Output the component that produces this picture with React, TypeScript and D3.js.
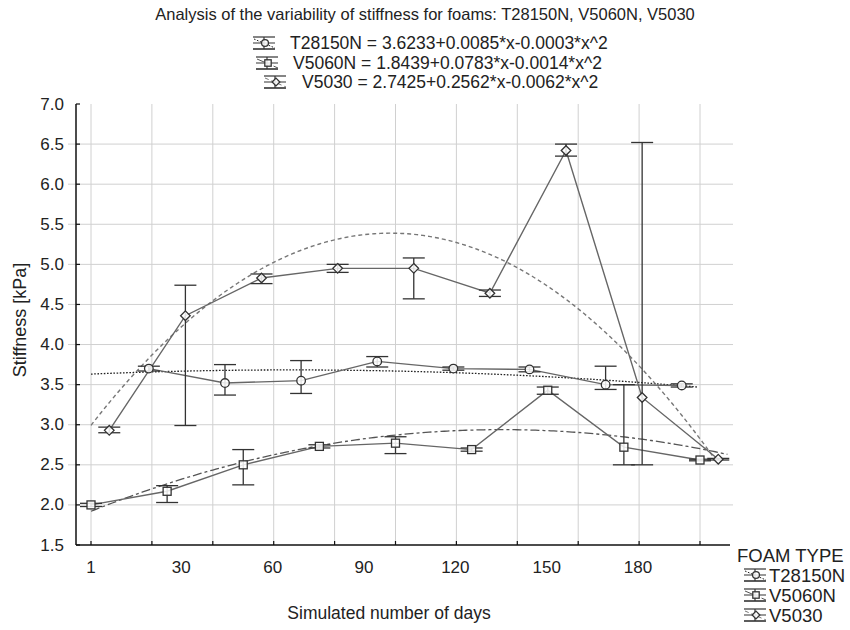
import React from 'react';
import * as d3 from 'd3';

// ---------- data ----------
const seriesNames = ['T28150N', 'V5060N', 'V5030'];

const t28Days = [20, 45, 70, 95, 120, 145, 170, 195];
const t28Mean = [3.70, 3.52, 3.55, 3.79, 3.70, 3.69, 3.50, 3.49];
const t28Low = [3.67, 3.37, 3.39, 3.72, 3.68, 3.66, 3.44, 3.47];
const t28High = [3.73, 3.75, 3.80, 3.85, 3.72, 3.72, 3.73, 3.51];

const v5060Days = [1, 26, 51, 76, 101, 126, 151, 176, 201];
const v5060Mean = [2.00, 2.17, 2.50, 2.73, 2.77, 2.69, 3.43, 2.72, 2.56];
const v5060Low = [1.98, 2.03, 2.25, 2.71, 2.64, 2.67, 3.38, 2.50, 2.55];
const v5060High = [2.02, 2.24, 2.69, 2.75, 2.85, 2.71, 3.47, 3.50, 2.57];

const v5030Days = [7, 32, 57, 82, 107, 132, 157, 182, 207];
const v5030Mean = [2.93, 4.36, 4.83, 4.95, 4.95, 4.64, 6.42, 3.34, 2.57];
const v5030Low = [2.90, 2.99, 4.76, 4.90, 4.57, 4.60, 6.35, 2.50, 2.56];
const v5030High = [2.97, 4.74, 4.88, 5.00, 5.08, 4.68, 6.50, 6.52, 2.58];

const fitA = [3.6233, 1.8439, 2.7425];
const fitB = [0.0085, 0.0783, 0.2562];
const fitC = [-0.0003, -0.0014, -0.0062];
const fitStartDay = [1, 1, 1];
const fitEndDay = [200, 210, 207];
const fitUnitDays = 5;

const xGridDays = [1, 21, 41, 61, 81, 101, 121, 141, 161, 181, 201];
const xLabelDays = [1, 30, 60, 90, 120, 150, 180];
const yTicks = [1.5, 2.0, 2.5, 3.0, 3.5, 4.0, 4.5, 5.0, 5.5, 6.0, 6.5, 7.0];

const titleText = 'Analysis of the variability of stiffness for foams: T28150N, V5060N, V5030';
const xTitle = 'Simulated number of days';
const yTitle = 'Stiffness [kPa]';
const legendTitle = 'FOAM TYPE';

// ---------- layout ----------
const W = 850, H = 630;
const axisLeft = 76, axisRight = 730, plotTop = 104, plotBottom = 545;
const FONT = '"Liberation Sans", Arial, Helvetica, sans-serif';
const TEXT = '#222';

const x = d3.scaleLinear().domain([1, 201]).range([91, 700]);
const y = d3.scaleLinear().domain([1.5, 7.0]).range([plotBottom, plotTop]);

const markers = ['circle', 'square', 'diamond'];
const fitStyles = [
  { stroke: '#222', dash: '1.6,1.6', width: 1.3 },
  { stroke: '#555', dash: '9,3,3,3', width: 1.3 },
  { stroke: '#777', dash: '4,3', width: 1.4 },
];

const seriesData = [
  { days: t28Days, mean: t28Mean, low: t28Low, high: t28High },
  { days: v5060Days, mean: v5060Mean, low: v5060Low, high: v5060High },
  { days: v5030Days, mean: v5030Mean, low: v5030Low, high: v5030High },
];

function Marker({ type, cx, cy, s = 1 }: { type: string; cx: number; cy: number; s?: number }) {
  const st = { fill: 'white', fillOpacity: 0.85, stroke: '#333', strokeWidth: 1.3 };
  if (type === 'circle') return <circle cx={cx} cy={cy} r={4.3 * s} {...st} />;
  if (type === 'square') return <rect x={cx - 4 * s} y={cy - 4 * s} width={8 * s} height={8 * s} {...st} />;
  const h = 4.8 * s;
  return <path d={`M${cx},${cy - h}L${cx + h},${cy}L${cx},${cy + h}L${cx - h},${cy}Z`} {...st} />;
}

function LegendIcon({ i, cx, cy }: { i: number; cx: number; cy: number }) {
  const fs = fitStyles[i];
  return (
    <g>
      <line x1={cx - 11} x2={cx + 11} y1={cy - 6} y2={cy - 6} stroke="#333" strokeWidth={1.2} />
      <line x1={cx - 11} x2={cx + 11} y1={cy} y2={cy} stroke="#555" strokeWidth={1.2} />
      <line x1={cx - 11} x2={cx + 11} y1={cy + 6} y2={cy + 6} stroke="#333" strokeWidth={1.6} />
      <line x1={cx} x2={cx} y1={cy - 6} y2={cy + 6} stroke="#333" strokeWidth={1.2} />
      <line x1={cx - 10} x2={cx + 11} y1={cy - 4} y2={cy + 5} stroke={fs.stroke} strokeWidth={1} strokeDasharray={fs.dash} />
      <Marker type={markers[i]} cx={cx + 1} cy={cy} s={0.8} />
    </g>
  );
}

function eqText(i: number) {
  const c = fitC[i];
  return `${seriesNames[i]} = ${fitA[i].toFixed(4)}+${fitB[i].toFixed(4)}*x${c < 0 ? '-' : '+'}${Math.abs(c).toFixed(4)}*x^2`;
}

export default function App() {
  const dataLine = d3.line<[number, number]>().x(d => x(d[0])).y(d => y(d[1]));
  const fitLine = d3.line<number>().x(d => x(d)).curve(d3.curveLinear);

  const topLegend = [
    { icon: 264, text: 290, y: 43 },
    { icon: 267, text: 293, y: 63 },
    { icon: 275, text: 302, y: 82 },
  ];

  return (
    <svg width={W} height={H} style={{ position: 'absolute', left: 0, top: 0, background: 'white' }} fontFamily={FONT}>
      <rect x={0} y={0} width={W} height={H} fill="white" />
      {/* title */}
      <text x={425} y={14} textAnchor="middle" dominantBaseline="central" fontSize={16.5} fill={TEXT}>{titleText}</text>
      {topLegend.map((p, i) => (
        <g key={i}>
          <LegendIcon i={i} cx={p.icon} cy={p.y} />
          <text x={p.text} y={p.y} dominantBaseline="central" fontSize={17.5} fill={TEXT}>{eqText(i)}</text>
        </g>
      ))}

      {/* grid */}
      {yTicks.filter(v => v > 1.5 && v < 7).map(v => (
        <line key={'gy' + v} x1={68} x2={733} y1={y(v)} y2={y(v)} stroke="#d0d0d0" strokeWidth={1} />
      ))}
      {xGridDays.map(d => (
        <line key={'gx' + d} x1={x(d)} x2={x(d)} y1={plotTop} y2={plotBottom} stroke="#d0d0d0" strokeWidth={1} />
      ))}

      {/* fits */}
      {seriesNames.map((_, i) => {
        const days = d3.range(fitStartDay[i], fitEndDay[i] + 0.5, 1);
        const f = (d: number) => {
          const t = 1 + (d - 1) / fitUnitDays;
          return fitA[i] + fitB[i] * t + fitC[i] * t * t;
        };
        const path = fitLine.y(d => y(f(d)))(days) as string;
        const fs = fitStyles[i];
        return <path key={'fit' + i} d={path} fill="none" stroke={fs.stroke} strokeWidth={fs.width} strokeDasharray={fs.dash} />;
      })}

      {/* data lines */}
      {seriesData.map((s, i) => (
        <path key={'dl' + i} d={dataLine(s.days.map((d, j) => [d, s.mean[j]] as [number, number])) as string}
          fill="none" stroke="#666" strokeWidth={1.4} />
      ))}

      {/* error bars */}
      {seriesData.map((s, i) => (
        <g key={'eb' + i} stroke="#333" strokeWidth={1.3}>
          {s.days.map((d, j) => (
            <g key={j}>
              <line x1={x(d)} x2={x(d)} y1={y(s.high[j])} y2={y(s.low[j])} />
              <line x1={x(d) - 11} x2={x(d) + 11} y1={y(s.high[j])} y2={y(s.high[j])} />
              <line x1={x(d) - 11} x2={x(d) + 11} y1={y(s.low[j])} y2={y(s.low[j])} />
            </g>
          ))}
        </g>
      ))}

      {/* markers */}
      {seriesData.map((s, i) => (
        <g key={'mk' + i}>
          {s.days.map((d, j) => <Marker key={j} type={markers[i]} cx={x(d)} cy={y(s.mean[j])} />)}
        </g>
      ))}

      {/* axes */}
      <line x1={axisLeft} x2={axisLeft} y1={plotTop} y2={plotBottom} stroke="#111" strokeWidth={1.5} />
      <line x1={axisLeft} x2={axisRight} y1={plotBottom} y2={plotBottom} stroke="#111" strokeWidth={1.5} />
      {yTicks.map(v => (
        <g key={'yt' + v}>
          <line x1={axisLeft} x2={axisLeft + 4} y1={y(v)} y2={y(v)} stroke="#111" strokeWidth={1.2} />
          <text x={64} y={y(v)} textAnchor="end" dominantBaseline="central" fontSize={17} fill={TEXT}>{v.toFixed(1)}</text>
        </g>
      ))}
      {xGridDays.map(d => (
        <line key={'xt' + d} x1={x(d)} x2={x(d)} y1={plotBottom} y2={plotBottom - 4} stroke="#111" strokeWidth={1.2} />
      ))}
      {xLabelDays.map(d => (
        <text key={'xl' + d} x={x(d) + (d === 1 ? 0 : 2)} y={567} textAnchor="middle" dominantBaseline="central" fontSize={17} fill={TEXT}>{d}</text>
      ))}

      <text x={389} y={613} textAnchor="middle" dominantBaseline="central" fontSize={17.5} fill={TEXT}>{xTitle}</text>
      <text transform={`translate(20,320) rotate(-90)`} textAnchor="middle" dominantBaseline="central" fontSize={18} fill={TEXT}>{yTitle}</text>

      {/* bottom-right legend */}
      <text x={737} y={555} dominantBaseline="central" fontSize={18.5} fill={TEXT}>{legendTitle}</text>
      {seriesNames.map((n, i) => (
        <g key={'bl' + i}>
          <LegendIcon i={i} cx={755} cy={575 + i * 20} />
          <text x={769} y={575 + i * 20} dominantBaseline="central" fontSize={18.5} fill={TEXT}>{n}</text>
        </g>
      ))}
    </svg>
  );
}
